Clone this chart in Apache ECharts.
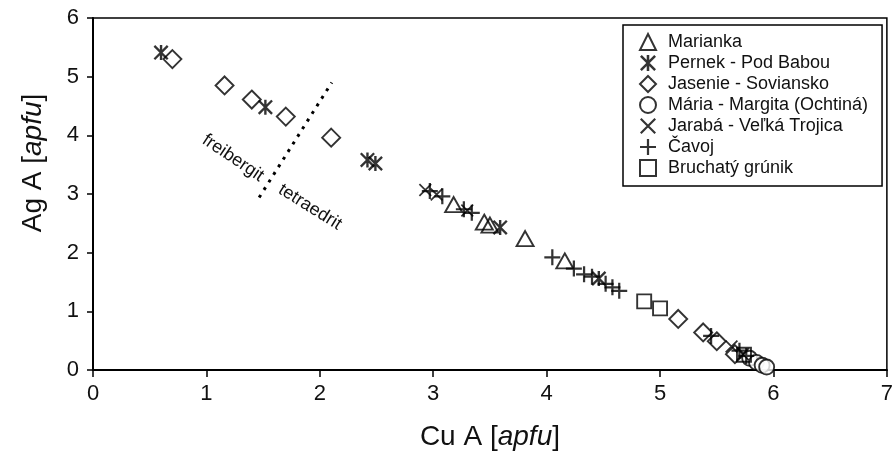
<!DOCTYPE html>
<html>
<head>
<meta charset="utf-8">
<script src="https://cdn.jsdelivr.net/npm/echarts@6/dist/echarts.min.js"></script>
<style>
html,body{margin:0;padding:0;background:#fff;}
#chart{width:896px;height:456px;}
</style>
</head>
<body>
<div id="chart"></div>
<script>
// data: [Cu A, Ag A]
var marianka = [[3.18,2.82],[3.45,2.52],[3.50,2.47],[3.81,2.24],[4.16,1.86]];
var pernek = [[0.60,5.41],[1.52,4.48],[2.42,3.58],[2.49,3.52],[3.59,2.43],[4.46,1.56]];
var jasenie = [[0.70,5.30],[1.16,4.85],[1.40,4.61],[1.70,4.32],[2.10,3.96],[5.16,0.87],[5.38,0.64],[5.50,0.49],[5.66,0.27]];
var maria = [[5.79,0.20],[5.85,0.13],[5.90,0.08],[5.94,0.05]];
var jaraba = [[2.93,3.07],[3.03,2.99],[3.30,2.72],[5.63,0.40],[5.73,0.27]];
var cavoj = [[2.97,3.05],[3.08,2.96],[3.27,2.74],[3.34,2.68],[4.05,1.92],[4.24,1.73],[4.33,1.63],[4.40,1.59],[4.52,1.47],[4.58,1.41],[4.64,1.35],[5.45,0.58],[5.70,0.33],[5.76,0.24]];
var bruchaty = [[4.86,1.17],[5.00,1.05],[5.74,0.26]];
// hranica freibergit / tetraedrit
var boundary = [[1.465,2.94],[2.105,4.90]];
var names = ['Marianka','Pernek - Pod Babou','Jasenie - Soviansko','Mária - Margita (Ochtiná)','Jarabá - Veľká Trojica','Čavoj','Bruchatý grúnik'];

// ikonky (plne vyplnene cesty)
var plusIcon = 'path://M8.6,0L11.4,0L11.4,20L8.6,20Z M0,8.6L20,8.6L20,11.4L0,11.4Z';
var crossIcon = 'path://M1.9,0L20,18.1L18.1,20L0,1.9Z M20,1.9L1.9,20L0,18.1L18.1,0Z';
var starIcon = 'path://M2.2,0L20,17.8L17.8,20L0,2.2Z M20,2.2L2.2,20L0,17.8L17.8,0Z M8.4,0L11.6,0L11.6,20L8.4,20Z';

var hollow = {color:'rgba(255,255,255,0)', borderColor:'#000', borderWidth:1.9};
var fontF = 'Liberation Sans, Arial, sans-serif';

var myChart = echarts.init(document.getElementById('chart'));
var option = {
    animation:false,
    backgroundColor:'#fff',
    textStyle:{fontFamily:fontF},
    grid:{left:93, right:4, top:18, bottom:85, show:true, borderColor:'#000', borderWidth:1.5},
    legend:{
        orient:'vertical',
        left:623, top:25,
        padding:[8,14,9,16],
        itemWidth:16, itemHeight:16, itemGap:3,
        borderColor:'#000', borderWidth:1.5,
        backgroundColor:'#fff',
        textStyle:{fontSize:18, lineHeight:18, color:'#111', fontFamily:fontF, padding:[0,0,0,7]},
        data:names
    },
    xAxis:{
        type:'value', min:0, max:7, interval:1,
        name:'Cu A [{i|apfu}]', nameLocation:'middle', nameGap:53,
        nameTextStyle:{fontSize:28, color:'#111', rich:{i:{fontSize:28, fontStyle:'italic', color:'#111'}}},
        axisLine:{lineStyle:{color:'#000', width:2}},
        axisTick:{length:7, lineStyle:{color:'#000', width:1.5}},
        axisLabel:{fontSize:22, color:'#111', margin:13},
        splitLine:{show:false}
    },
    yAxis:{
        type:'value', min:0, max:6, interval:1,
        name:'Ag A [{i|apfu}]', nameLocation:'middle', nameGap:46,
        nameTextStyle:{fontSize:28, color:'#111', padding:[0,0,0,62], rich:{i:{fontSize:28, fontStyle:'italic', color:'#111'}}},
        axisLine:{lineStyle:{color:'#000', width:2}},
        axisTick:{length:6, lineStyle:{color:'#000', width:1.5}},
        axisLabel:{fontSize:22, color:'#111', margin:14},
        splitLine:{show:false}
    },
    graphic:[
        {type:'text', x:233, y:158, rotation:-34*Math.PI/180,
         style:{text:'freibergit', fontSize:18, fill:'#111', align:'center', verticalAlign:'middle', fontFamily:fontF}},
        {type:'text', x:310, y:207, rotation:-32*Math.PI/180,
         style:{text:'tetraedrit', fontSize:18, fill:'#111', align:'center', verticalAlign:'middle', fontFamily:fontF}}
    ],
    series:[
        {type:'line', data:boundary, symbol:'none', silent:true,
         lineStyle:{color:'#000', width:3, type:[3,6]}},
        {name:names[0], type:'scatter', data:marianka, symbol:'triangle', symbolSize:[17,15], itemStyle:hollow},
        {name:names[1], type:'scatter', data:pernek, symbol:starIcon, symbolSize:15, itemStyle:{color:'#000'}},
        {name:names[2], type:'scatter', data:jasenie, symbol:'diamond', symbolSize:[18,18], itemStyle:hollow},
        {name:names[3], type:'scatter', data:maria, symbol:'circle', symbolSize:15, itemStyle:{color:'#fff', borderColor:'#000', borderWidth:1.9}},
        {name:names[4], type:'scatter', data:jaraba, symbol:crossIcon, symbolSize:13, itemStyle:{color:'#000'}},
        {name:names[5], type:'scatter', data:cavoj, symbol:plusIcon, symbolSize:16, itemStyle:{color:'#000'}},
        {name:names[6], type:'scatter', data:bruchaty, symbol:'rect', symbolSize:14, itemStyle:hollow}
    ]
};
myChart.setOption(option);
</script>
</body>
</html>
